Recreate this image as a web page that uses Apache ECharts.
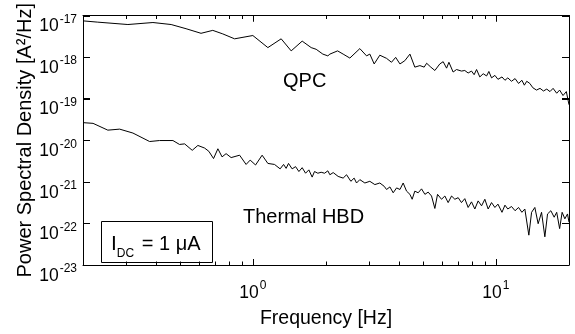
<!DOCTYPE html>
<html>
<head>
<meta charset="utf-8">
<script src="https://cdn.jsdelivr.net/npm/echarts@6/dist/echarts.min.js"></script>
<style>html,body{margin:0;padding:0;background:#fff;}#c{width:575px;height:334px;}</style>
</head>
<body>
<div id="c"></div>
<script>
// ---- data ----
const freqQPC = [0.2,0.230,0.306,0.388,0.461,0.531,0.612,0.684,0.752,0.841,1.0,1.153,1.308,1.438,1.596,1.738,1.822,1.941,2.035,
  2.075,2.232,2.353,2.507,2.756,2.937,3.03,3.157,3.33,3.55,3.72,3.87,4.03,4.22,4.43,4.64,4.87,5.07,5.19,5.40,5.61,5.88,6.07,6.27,6.41,
  6.67,6.89,7.22,7.45,7.69,7.94,8.14,8.33,8.59,8.87,9.16,9.36,9.60,9.91,10.2,10.6,10.9,11.2,11.6,12.0,12.4,12.8,13.1,13.4,13.8,14.2,
  14.7,15.2,15.7,16.2,16.7,17.2,17.8,18.3,18.9,19.5,20.0];
const psdQPC = [7.43e-18,6.92e-18,6.07e-18,6.78e-18,6.07e-18,4.81e-18,3.73e-18,4.39e-18,3.61e-18,2.75e-18,3.30e-18,1.69e-18,2.75e-18,
  1.41e-18,2.42e-18,1.69e-18,1.54e-18,1.18e-18,1.07e-18,
  1.18e-18,1.41e-18,1.18e-18,9.47e-19,1.60e-18,1.07e-18,1.18e-18,6.84e-19,1.11e-18,9.32e-19,7.50e-19,9.84e-19,6.84e-19,8.18e-19,
  1.18e-18,5.73e-19,6.24e-19,5.73e-19,7.11e-19,5.73e-19,4.76e-19,6.84e-19,7.75e-19,5.42e-19,7.50e-19,4.37e-19,5.02e-19,4.61e-19,
  4.76e-19,4.14e-19,4.61e-19,3.77e-19,5.02e-19,3.33e-19,3.98e-19,3.52e-19,4.51e-19,3.16e-19,3.63e-19,2.92e-19,3.33e-19,2.77e-19,
  3.16e-19,2.62e-19,3.04e-19,2.32e-19,2.77e-19,2.11e-19,2.62e-19,2.32e-19,1.83e-19,1.61e-19,1.77e-19,1.53e-19,1.70e-19,1.48e-19,
  1.77e-19,1.35e-19,1.61e-19,1.19e-19,1.48e-19,7.14e-20];

const freqHBD = [0.2,0.220,0.253,0.283,0.321,0.376,0.413,0.469,0.499,0.524,0.563,0.594,0.633,0.659,0.689,0.718,0.747,0.776,0.814,
  0.882,0.938,0.975,1.026,1.092,1.153,1.228,1.295,1.338,1.371,1.402,1.451,1.499,1.547,1.596,1.648,1.700,1.754,1.794,1.851,1.910,
  1.973,2.035,2.075,2.141,2.244,2.353,2.43,2.531,2.611,2.671,2.756,2.89,3.03,3.177,3.33,3.47,3.55,3.664,3.78,3.904,4.03,4.155,4.29,
  4.43,4.525,4.64,4.79,4.945,5.105,5.266,5.437,5.61,5.755,5.976,6.168,6.364,6.572,6.782,6.998,7.22,7.45,7.69,7.94,8.195,8.455,8.735,
  9.01,9.297,9.60,9.91,10.2,10.6,10.9,11.2,11.6,12.0,12.4,12.8,13.16,13.67,14.03,14.47,14.93,15.42,15.91,16.32,16.84,17.38,17.8,18.3,
  18.74,19.23,19.72,20.0];
const psdHBD = [2.65e-20,2.55e-20,1.75e-20,1.85e-20,1.49e-20,9.32e-21,9.84e-21,9.84e-21,7.93e-21,8.18e-21,5.73e-21,7.50e-21,6.49e-21,
  5.42e-21,3.63e-21,6.24e-21,3.98e-21,4.76e-21,3.83e-21,4.37e-21,2.62e-21,3.33e-21,2.54e-21,4.37e-21,2.77e-21,2.62e-21,2.05e-21,
  2.62e-21,2.11e-21,2.77e-21,2.05e-21,2.32e-21,1.77e-21,2.19e-21,1.61e-21,1.94e-21,1.30e-21,1.77e-21,1.61e-21,1.70e-21,1.61e-21,
  1.84e-21,1.48e-21,1.67e-21,1.35e-21,1.23e-21,1.48e-21,1.03e-21,1.23e-21,9.38e-22,1.13e-21,9.38e-22,1.03e-21,8.59e-22,9.38e-22,
  7.83e-22,6.55e-22,7.54e-22,5.45e-22,7.14e-22,6.55e-22,9.38e-22,5.98e-22,5.00e-22,3.81e-22,5.98e-22,5.45e-22,6.78e-22,5.00e-22,
  5.66e-22,4.56e-22,2.29e-22,5.00e-22,3.81e-22,4.56e-22,3.17e-22,4.56e-22,3.81e-22,4.16e-22,3.17e-22,3.94e-22,2.42e-22,3.30e-22,
  2.22e-22,3.48e-22,2.65e-22,3.81e-22,2.22e-22,3.17e-22,2.42e-22,2.91e-22,1.85e-22,2.75e-22,2.22e-22,2.55e-22,2.02e-22,2.42e-22,
  1.85e-22,2.22e-22,5.22e-23,1.85e-22,2.42e-22,9.84e-23,1.85e-22,4.76e-23,1.69e-22,2.02e-22,1.41e-22,1.85e-22,7.50e-23,1.85e-22,
  1.29e-22,1.69e-22,1.07e-22];

const xMajorTicks = [1, 10];
const xMinorTicks = [0.3,0.4,0.5,0.6,0.7,0.8,0.9,2,3,4,5,6,7,8,9];
const yTicks = [1e-23,1e-22,1e-21,1e-20,1e-19,1e-18,1e-17];
const xRange = [0.2, 20];
const yRange = [1e-23, 1e-17];

const FONT = 'Liberation Sans, Arial, Helvetica, sans-serif';
const expLabel = v => '{b|10}{s|' + Math.round(Math.log10(v)) + '}';
const expRich = {
  b: { fontSize: 17.5, fontFamily: FONT, color: '#000', lineHeight: 22, verticalAlign: 'bottom' },
  s: { fontSize: 12, fontFamily: FONT, color: '#000', lineHeight: 22, verticalAlign: 'top', padding: [0, 0, 7, 1] }
};
const AX = { color: '#000', width: 1 };
const TICK = { show: true, inside: true, lineStyle: { color: '#000', width: 1 } };

const xMain = {
  type: 'log', logBase: 10, min: xRange[0], max: xRange[1], position: 'bottom',
  axisLine: { show: true, onZero: false, lineStyle: AX }, axisTick: Object.assign({ length: 6 }, TICK),
  axisLabel: { show: true, customValues: xMajorTicks, margin: 15, formatter: expLabel, rich: expRich },
  splitLine: { show: false },
  name: 'Frequency [Hz]', nameLocation: 'middle', nameGap: 44, nameMoveOverlap: false,
  nameTextStyle: { fontSize: 19.5, fontFamily: FONT, color: '#000' }
};
const yMain = {
  type: 'log', logBase: 10, min: yRange[0], max: yRange[1], position: 'left',
  axisLine: { show: true, onZero: false, lineStyle: AX }, axisTick: Object.assign({ length: 7 }, TICK),
  axisLabel: { show: true, customValues: yTicks, margin: 6, formatter: expLabel, padding: [18, 0, 0, 0], rich: expRich },
  splitLine: { show: false },
  name: 'Power Spectral Density [A²/Hz]', nameLocation: 'middle', nameGap: 48, nameMoveOverlap: false,
  nameTextStyle: { fontSize: 20, fontFamily: FONT, color: '#000' }
};
function frameAxis(pos, range, len) {
  return { type: 'log', logBase: 10, min: range[0], max: range[1], position: pos,
    axisLine: { show: true, onZero: false, lineStyle: AX }, axisTick: Object.assign({ length: len }, TICK),
    axisLabel: { show: false }, splitLine: { show: false } };
}

const labelGraphics = [
  { id: 'qpc', type: 'text', left: 283, top: 71, style: { text: 'QPC', fontSize: 20, fontFamily: FONT, fill: '#000' } },
  { id: 'hbd', type: 'text', left: 243, top: 207, style: { text: 'Thermal HBD', fontSize: 20, fontFamily: FONT, fill: '#000' } },
  { id: 'box', type: 'rect', shape: { x: 101.5, y: 221.5, width: 111, height: 41 }, style: { fill: '#fff', stroke: '#000', lineWidth: 1 } },
  { id: 'idc', type: 'text', left: 111, top: 234, style: {
      text: '{i|I}{d|DC}{t| = 1 μA}', fontFamily: FONT,
      rich: {
        i: { fontSize: 21, fontFamily: FONT, fill: '#000', lineHeight: 26, verticalAlign: 'top' },
        d: { fontSize: 12, fontFamily: FONT, fill: '#000', lineHeight: 26, verticalAlign: 'bottom', padding: [0, 2, 0, 0] },
        t: { fontSize: 20, fontFamily: FONT, fill: '#000', lineHeight: 26, verticalAlign: 'top' }
      } } }
];

const chart = echarts.init(document.getElementById('c'), null, { renderer: 'canvas' });
chart.setOption({
  animation: false,
  backgroundColor: '#fff',
  grid: { left: 83, right: 6, top: 15.5, bottom: 63.5, containLabel: false },
  xAxis: [xMain, frameAxis('top', xRange, 6)],
  yAxis: [yMain, frameAxis('right', yRange, 7)],
  series: [
    { type: 'line', name: 'QPC', xAxisIndex: 0, yAxisIndex: 0, showSymbol: false, symbol: 'none',
      lineStyle: { color: '#000', width: 1 }, data: freqQPC.map((f, i) => [f, psdQPC[i]]) },
    { type: 'line', name: 'Thermal HBD', xAxisIndex: 0, yAxisIndex: 0, showSymbol: false, symbol: 'none',
      lineStyle: { color: '#000', width: 1 }, data: freqHBD.map((f, i) => [f, psdHBD[i]]) }
  ],
  graphic: labelGraphics
});

// inward tick marks (major + minor) positioned through the grid's own conversion, once layout is ready
let ticksDone = false;
function drawTicks() {
  if (ticksDone) return;
  const toPx = (x, y) => chart.convertToPixel({ gridIndex: 0 }, [x, y]);
  const bl = toPx(xRange[0], yRange[0]), tr = toPx(xRange[1], yRange[1]);
  if (!bl || !tr || !isFinite(bl[0]) || !isFinite(bl[1]) || !isFinite(tr[0]) || !isFinite(tr[1])) return;
  ticksDone = true;
  const st = { stroke: '#000', lineWidth: 1 };
  const g = [];
  const addX = (v, len) => {
    const p = toPx(v, yRange[0]);
    if (!p || !isFinite(p[0])) return;
    const x = Math.round(p[0]) + 0.5;
    g.push({ type: 'line', z: 100, shape: { x1: x, y1: bl[1], x2: x, y2: bl[1] - len }, style: st });
    g.push({ type: 'line', z: 100, shape: { x1: x, y1: tr[1], x2: x, y2: tr[1] + len }, style: st });
  };
  const addY = (v, len) => {
    const p = toPx(xRange[0], v);
    if (!p || !isFinite(p[1])) return;
    const y = Math.round(p[1]) + 0.5;
    g.push({ type: 'line', z: 100, shape: { x1: bl[0], y1: y, x2: bl[0] + len, y2: y }, style: st });
    g.push({ type: 'line', z: 100, shape: { x1: tr[0], y1: y, x2: tr[0] - len, y2: y }, style: st });
  };
  xMajorTicks.forEach(v => addX(v, 6));
  xMinorTicks.forEach(v => addX(v, 3.5));
  yTicks.forEach(v => addY(v, 7));
  chart.setOption({ graphic: labelGraphics.concat(g) });
}
drawTicks();
chart.on('finished', drawTicks);
setTimeout(drawTicks, 0);
setTimeout(drawTicks, 60);
</script>
</body>
</html>
